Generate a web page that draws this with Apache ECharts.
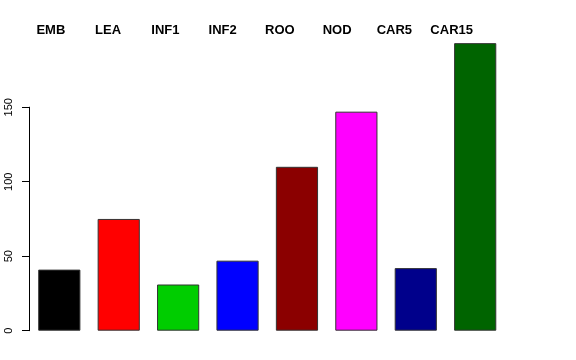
<!DOCTYPE html>
<html><head><meta charset="utf-8">
<script src="https://cdn.jsdelivr.net/npm/echarts@6/dist/echarts.min.js"></script>
<style>html,body{margin:0;padding:0;background:#fff}#c{width:576px;height:360px}</style>
</head><body><div id="c"></div>
<script>
var categories = ['EMB','LEA','INF1','INF2','ROO','NOD','CAR5','CAR15'];
var values = [41, 75, 31, 47, 110, 147, 42, 193];
var colors = ['#000000','#FF0000','#00CD00','#0000FF','#8B0000','#FF00FF','#00008B','#006400'];
var yTicks = [0, 50, 100, 150];

var chart = echarts.init(document.getElementById('c'), null, {renderer:'canvas'});
var font = 'Liberation Sans, Arial, Helvetica, sans-serif';
chart.setOption({
  animation:false,
  backgroundColor:'#ffffff',
  grid:[
    {left:29.6, right:71.1, top:32.7, bottom:29.3},
    {left:29, right:71.1, top:107.2, bottom:29.3},
    {left:22.2, right:95.7, top:43, bottom:29.3}
  ],
  xAxis:[
    {gridIndex:0, type:'category', data:categories, show:false},
    {gridIndex:1, type:'category', data:categories, show:false},
    {gridIndex:2, type:'category', data:categories, position:'top',
      axisLine:{show:false}, axisTick:{show:false},
      axisLabel:{show:true, margin:6, fontFamily:font, fontWeight:'bold', fontSize:13, color:'#000'}}
  ],
  yAxis:[
    {gridIndex:0, type:'value', min:0, max:200, show:false},
    {gridIndex:1, type:'value', min:yTicks[0], max:yTicks[yTicks.length-1], interval:50,
      axisLine:{show:true, lineStyle:{color:'#000', width:1}},
      axisTick:{show:true, length:7, lineStyle:{color:'#000'}},
      splitLine:{show:false},
      axisLabel:{show:true, rotate:90, margin:15, fontFamily:font, fontSize:11, color:'#000'}},
    {gridIndex:2, type:'value', show:false}
  ],
  series:[{
    type:'bar', xAxisIndex:0, yAxisIndex:0,
    barCategoryGap:'29%',
    data: values.map(function(v,i){return {value:v, itemStyle:{color:colors[i]}};}),
    itemStyle:{borderColor:'#333', borderWidth:1}
  }]
});
</script></body></html>
